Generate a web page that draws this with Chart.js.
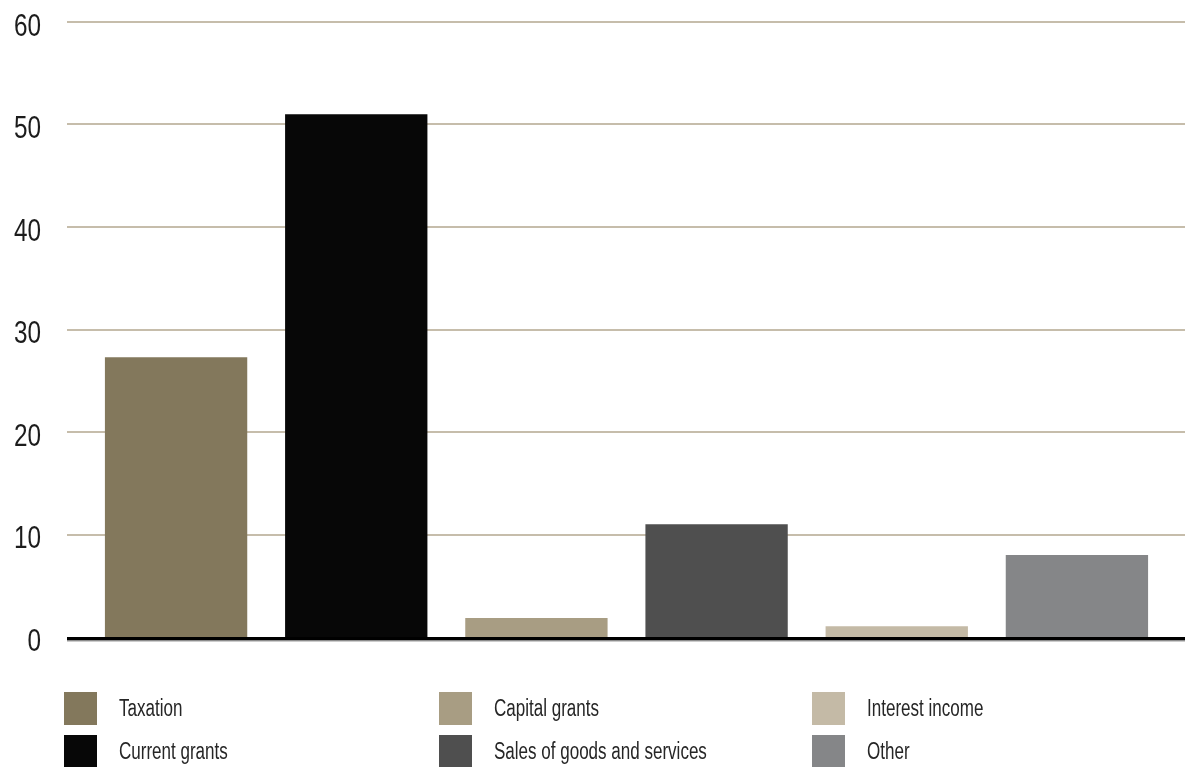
<!DOCTYPE html>
<html>
<head>
<meta charset="utf-8">
<script src="https://cdn.jsdelivr.net/npm/chart.js@4"></script>
<style>
  html, body { margin: 0; padding: 0; background: #ffffff; }
  #wrap { position: relative; width: 1191px; height: 767px; overflow: hidden; }
  #chart { position: absolute; left: 0; top: 0; }
  .legend { position: absolute; left: 0; top: 0; width: 1191px; height: 767px; pointer-events: none;
            font-family: 'Liberation Sans', Arial, sans-serif; }
  .swatch { position: absolute; width: 33px; height: 33px; }
  .label { position: absolute; white-space: nowrap; font-size: 23px; line-height: 33px; color: #262626;
           transform: scaleX(0.74); transform-origin: 0 50%; }
</style>
</head>
<body>
<div id="wrap">
  <canvas id="chart" width="1191" height="767"></canvas>
  <div class="legend" id="legend"></div>
</div>
<script>
// Revenue sources (per cent)
const categories = ['Taxation', 'Current grants', 'Capital grants', 'Sales of goods and services', 'Interest income', 'Other'];
const shares = [27.3, 51.0, 1.85, 11.0, 1.05, 8.0];
const barColors = ['#83785c', '#070707', '#a89d83', '#4f4f4f', '#c4baa6', '#858688'];
const yTicks = [0, 10, 20, 30, 40, 50, 60];

// Horizontal rules run past the plot area on both sides; the zero line is heavy.
// Tick numbers are set in a narrow face, so they are drawn here with a horizontal squeeze.
const rules = {
  id: 'rules',
  beforeDatasetsDraw(chart) {
    const { ctx } = chart;
    const y = chart.scales.y;
    const x0 = 67, x1 = 1185;
    ctx.save();
    ctx.strokeStyle = '#c6bdab';
    ctx.lineWidth = 2;
    yTicks.forEach(v => {
      if (v === 0) return;
      const py = Math.round(y.getPixelForValue(v));
      ctx.beginPath();
      ctx.moveTo(x0, py);
      ctx.lineTo(x1, py);
      ctx.stroke();
    });
    ctx.restore();
  },
  afterDatasetsDraw(chart) {
    const { ctx } = chart;
    const y = chart.scales.y;
    const py = y.getPixelForValue(0);
    ctx.save();
    ctx.fillStyle = '#000000';
    ctx.fillRect(67, py, 1118, 3.5);
    ctx.fillStyle = '#9a9a9a';
    ctx.fillRect(67, py + 3.5, 1118, 1);

    ctx.fillStyle = '#1c1c1c';
    ctx.font = "32px 'Liberation Sans', Arial, sans-serif";
    ctx.textAlign = 'right';
    ctx.textBaseline = 'alphabetic';
    yTicks.forEach(v => {
      const ty = y.getPixelForValue(v) + 13.5;
      ctx.save();
      ctx.translate(41, ty);
      ctx.scale(0.76, 1);
      ctx.fillText(String(v), 0, 0);
      ctx.restore();
    });
    ctx.restore();
  }
};

new Chart(document.getElementById('chart'), {
  type: 'bar',
  data: {
    labels: categories,
    datasets: [{
      data: shares,
      backgroundColor: barColors,
      borderWidth: 0,
      barPercentage: 0.79,
      categoryPercentage: 1.0
    }]
  },
  options: {
    responsive: false,
    animation: false,
    layout: { padding: { top: 22, right: 24, bottom: 130, left: 0 } },
    plugins: { legend: { display: false }, tooltip: { enabled: false } },
    scales: {
      x: { display: false, offset: true },
      y: {
        min: 0,
        max: 60,
        afterBuildTicks(scale) { scale.ticks = yTicks.map(v => ({ value: v })); },
        afterFit(scale) { scale.width = 86; scale.paddingTop = 0; scale.paddingBottom = 0; },
        grid: { display: false, drawTicks: false },
        border: { display: false },
        ticks: { display: false }
      }
    }
  },
  plugins: [rules]
});

// Legend: three columns, filled top to bottom.
const legend = document.getElementById('legend');
const colX = [64, 439, 812];
const rowY = [692, 735];
categories.forEach((name, i) => {
  const col = Math.floor(i / 2), row = i % 2;
  const sw = document.createElement('div');
  sw.className = 'swatch';
  sw.style.left = colX[col] + 'px';
  sw.style.top = rowY[row] + 'px';
  sw.style.background = barColors[i];
  legend.appendChild(sw);
  const lb = document.createElement('div');
  lb.className = 'label';
  lb.textContent = name;
  lb.style.left = (colX[col] + 55) + 'px';
  lb.style.top = rowY[row] + 'px';
  legend.appendChild(lb);
});
</script>
</body>
</html>
